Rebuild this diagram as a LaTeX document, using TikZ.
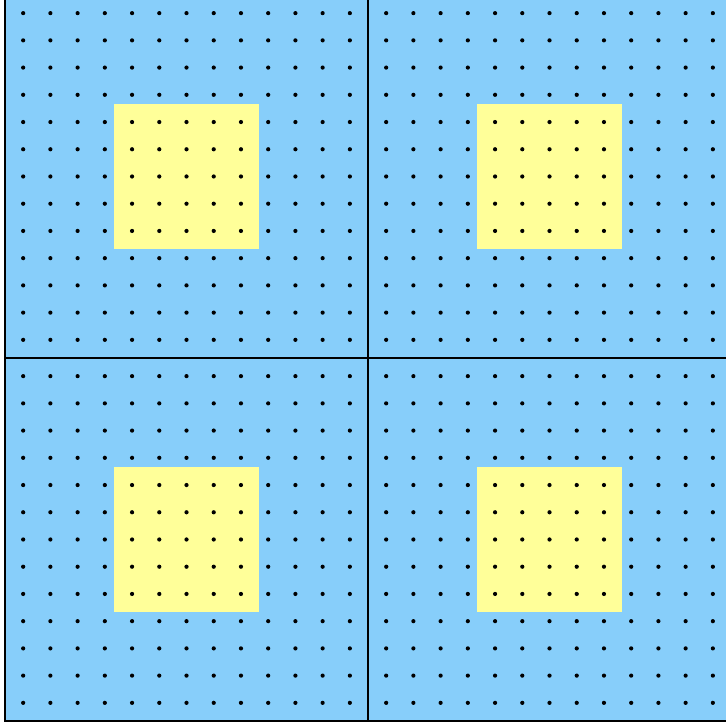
\documentclass[tikz,border=0pt]{standalone}
\usepackage{xcolor}
\definecolor{sky}{HTML}{87CEFA}
\definecolor{pale}{HTML}{FFFF99}

\begin{document}
\begin{tikzpicture}[x=1cm,y=1cm]
  \useasboundingbox (-0.138,-0.110) rectangle (19.862,19.862);
  % four panels, each with a dot lattice and a centred square
  \foreach \qx in {0,10} {
    \foreach \qy in {0,10} {
      \fill[sky] (\qx,\qy) rectangle ++(10,10);
      \fill[pale] (\qx+3,\qy+3) rectangle ++(4,4);
      \foreach \i in {0,...,12} {
        \foreach \j in {0,...,12} {
          \fill (\qx+0.5+0.75*\i,\qy+0.5+0.75*\j) circle (0.058);
        }
      }
      \draw[line width=1.3pt] (\qx,\qy) rectangle ++(10,10);
    }
  }
\end{tikzpicture}
\end{document}
